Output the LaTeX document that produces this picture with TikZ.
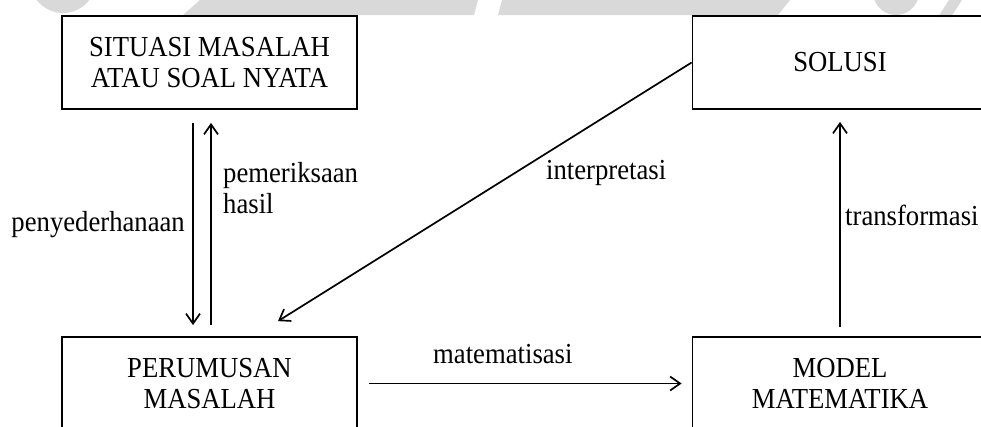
\documentclass[tikz,border=0pt]{standalone}
\usepackage{fontspec}
\setmainfont{Liberation Serif}[FakeStretch=0.92]
\usetikzlibrary{arrows.meta}
\definecolor{wm}{gray}{0.85}
\tikzset{
  box/.style={draw, line width=1.8pt, minimum width=295pt, minimum height=93pt, inner sep=0pt, align=center, font=\fontsize{29}{31.5}\selectfont},
  lbl/.style={inner sep=0pt, anchor=base west, font=\fontsize{29}{31.5}\selectfont},
  arr/.style={line width=1.7pt, -{Straight Barb[length=10pt,width=14pt]}}
}
\begin{document}
\begin{tikzpicture}[x=1pt,y=-1pt]
\useasboundingbox (0,0) rectangle (981,426);
\clip (0,0) rectangle (981,426);
% faint watermark fragments
\fill[wm] (63,-20) circle (33);
\fill[wm] (183,15) -- (200,0) -- (478,0) -- (474,15) -- cycle;
\fill[wm] (498,15) -- (502,0) -- (790,0) -- (778,15) -- cycle;
\fill[wm] (896,-8) circle (23);
\fill[wm] (938,17) -- (949,0) -- (962,0) -- (951,17) -- cycle;
% boxes
\node[box] (tl) at (209.5,62.5) {SITUASI MASALAH\\ATAU SOAL NYATA};
\node[box] (tr) at (840,62.5) {SOLUSI};
\node[box] (bl) at (209.5,383.5) {PERUMUSAN\\MASALAH};
\node[box] (br) at (840,383.5) {MODEL\\MATEMATIKA};
% connectors
\draw[arr] ([xshift=-16.5pt,yshift=-13pt]tl.south) -- ([xshift=-16.5pt,yshift=11pt]bl.north);
\draw[arr] ([xshift=1.5pt,yshift=11pt]bl.north) -- ([xshift=1.5pt,yshift=-13pt]tl.south);
\draw[arr] (tr.west) -- ([xshift=68.5pt,yshift=15pt]bl.north);
\draw[arr] ([yshift=9pt]br.north) -- ([yshift=-12pt]tr.south);
\draw[arr] ([xshift=11pt]bl.east) -- ([xshift=-10pt]br.west);
% labels
\node[lbl, anchor=base east] (l1) at (185,231) {penyederhanaan};
\node[lbl] (l2) at (223,182) {pemeriksaan};
\node[lbl] (l3) at (223,213) {hasil};
\node[lbl] (l4) at (546,179) {interpretasi};
\node[lbl] (l5) at (845,225) {transformasi};
\node[lbl] (l6) at (433,363) {matematisasi};
\end{tikzpicture}
\end{document}
